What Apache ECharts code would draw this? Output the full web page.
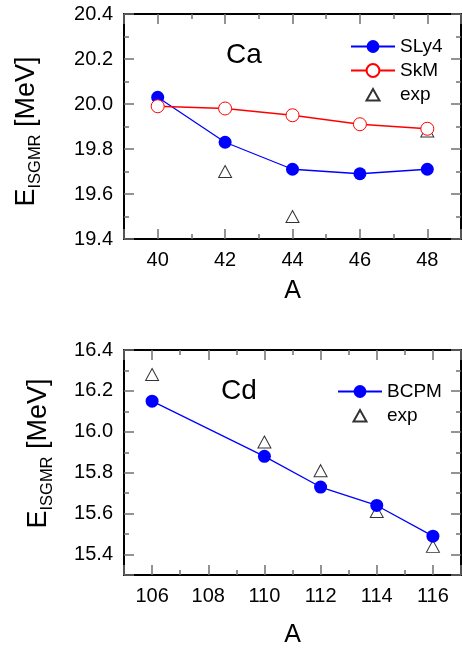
<!DOCTYPE html>
<html>
<head>
<meta charset="utf-8">
<script src="https://cdn.jsdelivr.net/npm/echarts@6/dist/echarts.min.js"></script>
<style>
html, body { margin: 0; padding: 0; background: #fff; }
#chart { width: 462px; height: 650px; }
</style>
</head>
<body>
<div id="chart"></div>
<script>
// Ca panel
var caA = [40, 42, 44, 46, 48];
var caSLy4 = [20.03, 19.83, 19.71, 19.69, 19.71];
var caSkM = [19.99, 19.98, 19.95, 19.91, 19.89];
var caExpA = [42, 44, 48];
var caExp = [19.70, 19.50, 19.88];
// Cd panel
var cdA = [106, 110, 112, 114, 116];
var cdBCPM = [16.15, 15.88, 15.73, 15.64, 15.49];
var cdExpA = [106, 110, 112, 114, 116];
var cdExp = [16.28, 15.95, 15.81, 15.61, 15.44];

var FONT = 'Liberation Sans';
var BLUE = '#0000ff';
var RED = '#ff0000';
// dark tick colours did not show up in the render, grey does
var TICK = '#707070';
// open triangle for the legend, padded so it keeps its size
var TRI = 'path://M0,0M16,16M1.5,14L8,2.5L14.5,14Z';

function zip(xs, ys) {
    return xs.map(function (x, i) { return [x, ys[i]]; });
}

// one side of the frame; labels only on bottom/left
function frameAxis(opt) {
    var ax = {
        type: 'value',
        gridIndex: opt.grid,
        position: opt.position,
        min: opt.min,
        max: opt.max,
        splitNumber: opt.splitNumber,
        axisLine: { show: true, onZero: false, lineStyle: { color: '#000', width: 2 } },
        axisTick: { show: true, inside: true, length: 10, lineStyle: { color: TICK, width: 1.5 } },
        minorTick: { show: true, splitNumber: 2, length: 5, lineStyle: { color: TICK, width: 1.5 } },
        splitLine: { show: false },
        axisLabel: {
            show: !!opt.labels,
            showMinLabel: opt.showMin,
            showMaxLabel: opt.showMax,
            margin: 11,
            color: '#000',
            fontFamily: FONT,
            fontSize: 20,
            formatter: opt.fmt
        }
    };
    if (opt.interval) ax.interval = opt.interval;
    if (opt.name) {
        ax.name = opt.name;
        ax.nameLocation = 'middle';
        ax.nameGap = opt.nameGap;
        ax.nameTextStyle = opt.nameStyle;
    }
    return ax;
}

var intFmt = function (v) { return String(Math.round(v)); };
var decFmt = function (v) { return v.toFixed(1); };

var xName = { color: '#000', fontFamily: FONT, fontSize: 25 };
function yName(pad) {
    return {
        color: '#000',
        fontFamily: FONT,
        padding: pad,
        rich: {
            e: { fontFamily: FONT, fontSize: 27, color: '#000' },
            s: { fontFamily: FONT, fontSize: 16.5, color: '#000', padding: [17, 0, 0, 0], verticalAlign: 'top' }
        }
    };
}
var yTitle = '{e|E}{s|ISGMR}{e| [MeV]}';

var option = {
    backgroundColor: '#fff',
    animation: false,
    grid: [
        { left: 124, top: 14, width: 337, height: 225 },
        { left: 124, top: 350, width: 337, height: 225 }
    ],
    xAxis: [
        frameAxis({ grid: 0, position: 'bottom', min: 39, max: 49, splitNumber: 5, labels: true, showMin: false, showMax: false, fmt: intFmt, name: 'A', nameGap: 40, nameStyle: xName }),
        frameAxis({ grid: 0, position: 'top', min: 39, max: 49, splitNumber: 5 }),
        frameAxis({ grid: 1, position: 'bottom', min: 105, max: 117, splitNumber: 5, labels: true, showMin: false, showMax: false, fmt: intFmt, name: 'A', nameGap: 48, nameStyle: xName }),
        frameAxis({ grid: 1, position: 'top', min: 105, max: 117, splitNumber: 5 })
    ],
    yAxis: [
        frameAxis({ grid: 0, position: 'left', min: 19.4, max: 20.4, interval: 0.2, labels: true, fmt: decFmt, name: yTitle, nameGap: 80, nameStyle: yName([0, 10, 0, 0]) }),
        frameAxis({ grid: 0, position: 'right', min: 19.4, max: 20.4, interval: 0.2 }),
        frameAxis({ grid: 1, position: 'left', min: 15.3, max: 16.4, splitNumber: 5, labels: true, showMin: false, fmt: decFmt, name: yTitle, nameGap: 68, nameStyle: yName([0, 0, 0, 18]) }),
        frameAxis({ grid: 1, position: 'right', min: 15.3, max: 16.4, splitNumber: 5 })
    ],
    legend: [
        {
            orient: 'vertical', left: 345, top: 32,
            itemWidth: 44, itemHeight: 16, itemGap: 5,
            symbolKeepAspect: true,
            textStyle: { fontFamily: FONT, fontSize: 19, color: '#000' },
            data: ['SLy4', 'SkM', { name: 'exp', icon: TRI }]
        },
        {
            orient: 'vertical', left: 332, top: 377,
            itemWidth: 44, itemHeight: 16, itemGap: 5,
            symbolKeepAspect: true,
            textStyle: { fontFamily: FONT, fontSize: 19, color: '#000' },
            data: ['BCPM', { name: 'exp', icon: TRI }]
        }
    ],
    graphic: [
        { type: 'text', x: 244, y: 55, style: { text: 'Ca', fontFamily: FONT, fontSize: 28, fill: '#000', align: 'center', verticalAlign: 'middle' } },
        { type: 'text', x: 239, y: 391, style: { text: 'Cd', fontFamily: FONT, fontSize: 28, fill: '#000', align: 'center', verticalAlign: 'middle' } }
    ],
    series: [
        {
            name: 'SLy4', type: 'line', xAxisIndex: 0, yAxisIndex: 0,
            data: zip(caA, caSLy4),
            symbol: 'circle', symbolSize: 13,
            itemStyle: { color: BLUE },
            lineStyle: { color: BLUE, width: 1.3 }
        },
        {
            name: 'SkM', type: 'line', xAxisIndex: 0, yAxisIndex: 0,
            data: zip(caA, caSkM),
            symbol: 'circle', symbolSize: 13,
            itemStyle: { color: '#fff', borderColor: RED, borderWidth: 1 },
            lineStyle: { color: RED, width: 1.3 }
        },
        {
            name: 'exp', type: 'scatter', xAxisIndex: 0, yAxisIndex: 0,
            data: zip(caExpA, caExp),
            symbol: 'triangle', symbolSize: [13, 12],
            itemStyle: { color: 'rgba(255,255,255,0)', borderColor: '#000', borderWidth: 1 }
        },
        {
            name: 'BCPM', type: 'line', xAxisIndex: 2, yAxisIndex: 2,
            data: zip(cdA, cdBCPM),
            symbol: 'circle', symbolSize: 13,
            itemStyle: { color: BLUE },
            lineStyle: { color: BLUE, width: 1.3 }
        },
        {
            name: 'exp', type: 'scatter', xAxisIndex: 2, yAxisIndex: 2,
            data: zip(cdExpA, cdExp),
            symbol: 'triangle', symbolSize: [13, 12],
            itemStyle: { color: 'rgba(255,255,255,0)', borderColor: '#000', borderWidth: 1 }
        }
    ]
};

var chart = echarts.init(document.getElementById('chart'));
chart.setOption(option);
</script>
</body>
</html>
